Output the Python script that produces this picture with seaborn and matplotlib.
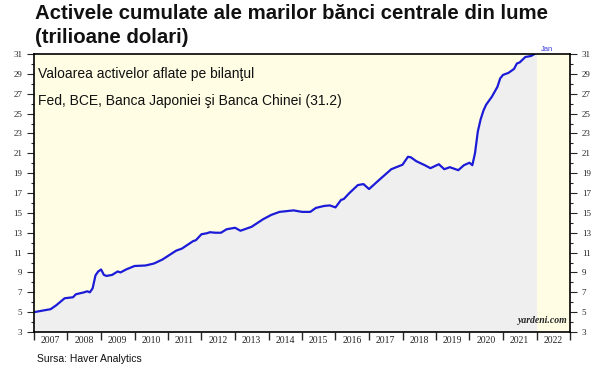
import matplotlib
matplotlib.use("Agg")
import matplotlib.dates as mdates
import pandas as pd
import seaborn as sns
from matplotlib import pyplot as plt
from matplotlib.ticker import MultipleLocator

# cumulative balance sheet assets, trillion USD
dates = [
    "2007-01", "2007-04", "2007-07", "2007-09", "2007-12", "2008-03", "2008-04",
    "2008-07", "2008-08", "2008-09", "2008-10", "2008-11", "2008-12", "2009-01",
    "2009-02", "2009-03", "2009-05", "2009-07", "2009-08", "2009-10", "2010-01",
    "2010-05", "2010-08", "2010-11", "2011-02", "2011-04", "2011-06", "2011-10",
    "2011-11", "2012-01", "2012-03", "2012-04", "2012-06", "2012-08", "2012-10",
    "2013-01", "2013-03", "2013-07", "2013-11", "2014-02", "2014-05", "2014-10",
    "2015-01", "2015-04", "2015-06", "2015-09", "2015-11", "2016-01", "2016-03",
    "2016-04", "2016-06", "2016-09", "2016-11", "2017-01", "2017-05", "2017-09",
    "2018-01", "2018-03", "2018-04", "2018-06", "2018-09", "2018-11", "2019-02",
    "2019-04", "2019-06", "2019-09", "2019-11", "2020-01", "2020-02", "2020-03",
    "2020-04", "2020-05", "2020-06", "2020-07", "2020-09", "2020-11", "2020-12",
    "2021-01", "2021-03", "2021-05", "2021-06", "2021-07", "2021-09", "2021-11",
    "2021-12", "2022-01",
]
assets = [
    5.0, 5.15, 5.3, 5.7, 6.4, 6.5, 6.8,
    7.0, 7.1, 7.0, 7.4, 8.7, 9.1, 9.3,
    8.75, 8.65, 8.75, 9.1, 9.0, 9.3, 9.65,
    9.7, 9.9, 10.3, 10.85, 11.2, 11.4, 12.15,
    12.25, 12.85, 12.95, 13.05, 13.0, 13.0, 13.35,
    13.5, 13.2, 13.6, 14.35, 14.8, 15.1, 15.25,
    15.1, 15.1, 15.5, 15.7, 15.75, 15.55, 16.3,
    16.4, 17.0, 17.8, 17.9, 17.4, 18.4, 19.4,
    19.85, 20.65, 20.6, 20.2, 19.8, 19.5, 19.9,
    19.4, 19.6, 19.3, 19.8, 20.05, 19.8, 21.0,
    23.2, 24.4, 25.3, 25.9, 26.7, 27.7, 28.55,
    28.9, 29.1, 29.5, 30.05, 30.15, 30.7, 30.8,
    30.95, 31.2,
]

title = "Activele cumulate ale marilor bănci centrale din lume\n(trilioane dolari)"
note = "Valoarea activelor aflate pe bilanţul\nFed, BCE, Banca Japoniei şi Banca Chinei (31.2)"
source = "Sursa: Haver Analytics"

sns.set_style("ticks")
plt.rcParams["font.family"] = ["Liberation Serif", "DejaVu Serif"]
sans = ["Liberation Sans", "DejaVu Sans"]

df = pd.DataFrame({"date": pd.to_datetime(dates), "assets": assets})

fig = plt.figure(figsize=(6, 3.72), dpi=100)
ax = fig.add_axes([0.0567, 0.1075, 0.8933, 0.7473])
ax.set_facecolor("#fffde4")

ax.fill_between(df["date"], 3, df["assets"], color="#efefef", lw=0)
sns.lineplot(data=df, x="date", y="assets", ax=ax, color="#1c1cd8", lw=1.6)

ax.set_xlim(pd.Timestamp("2007-01-01"), pd.Timestamp("2023-01-01"))
ax.set_ylim(3, 31)
ax.set_xlabel("")
ax.set_ylabel("")

# year boundaries as ticks, labels centred in between
ax.xaxis.set_major_locator(mdates.YearLocator())
ax.xaxis.set_major_formatter(plt.NullFormatter())
ax.xaxis.set_minor_locator(mdates.MonthLocator(bymonth=7))
ax.xaxis.set_minor_formatter(mdates.DateFormatter("%Y"))
ax.tick_params(axis="x", which="major", direction="out", length=6, width=1)
ax.tick_params(axis="x", which="minor", length=0, labelsize=7, pad=3)

ax.set_yticks(range(3, 32, 2))
ax.yaxis.set_minor_locator(MultipleLocator(1))
ax.tick_params(axis="y", which="major", direction="out", length=5, width=0.8,
               labelsize=6.5, left=True, right=True, labelleft=True, labelright=True)
ax.tick_params(axis="y", which="minor", direction="out", length=2.5, width=0.8,
               left=True, right=True)

for s in ax.spines.values():
    s.set_visible(True)
    s.set_linewidth(1.2)
    s.set_color("black")

last = df.iloc[-1]
ax.annotate("Jan", (last["date"], last["assets"]), xytext=(3, -1),
            textcoords="offset points", color="#3a3ae0", fontsize=5.5,
            family=sans, va="bottom", annotation_clip=False)

ax.text(0.008, 0.955, note, transform=ax.transAxes, family=sans, fontsize=10,
        va="top", ha="left", linespacing=2.2, color="#111111")
ax.text(0.995, 0.025, "yardeni.com", transform=ax.transAxes, fontsize=7,
        fontweight="bold", fontstyle="italic", ha="right", va="bottom")

fig.text(0.058, 0.99, title, family=sans, fontsize=14.7, fontweight="bold",
         va="top", ha="left", linespacing=1.35, color="#111111")
fig.text(0.062, 0.022, source, family=sans, fontsize=7.5, va="bottom",
         ha="left", color="#111111")

fig.savefig("out.png", dpi=100)
